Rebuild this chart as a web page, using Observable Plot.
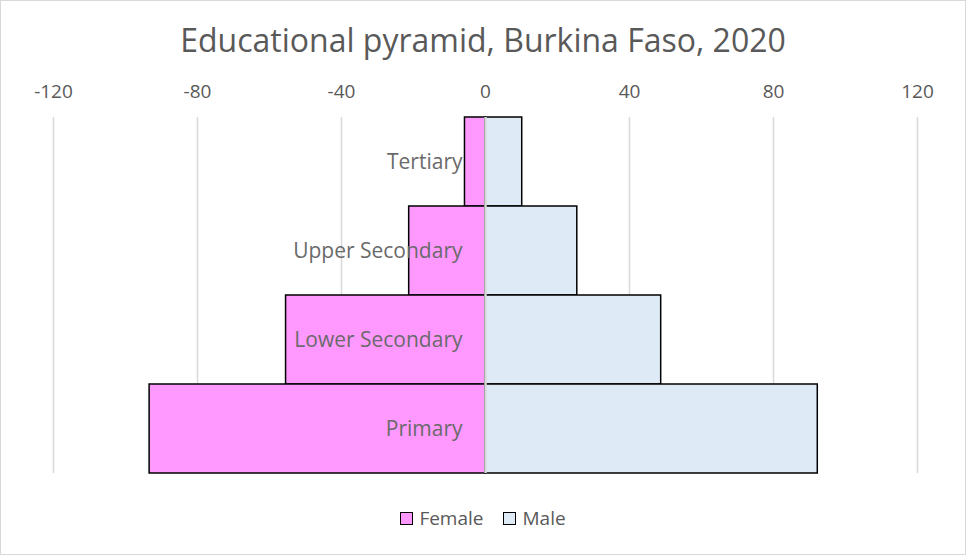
<!DOCTYPE html>
<html><head><meta charset="utf-8">
<script src="https://cdn.jsdelivr.net/npm/d3@7"></script>
<script src="https://cdn.jsdelivr.net/npm/@observablehq/plot@0.6"></script>
<style>
body{margin:0;background:#fff;font-family:"Open Sans",sans-serif;}
#wrap{position:relative;width:966px;height:555px;overflow:hidden;background:#fff}
#title{position:absolute;left:0;width:966px;top:24px;line-height:1;text-align:center;font-size:32px;color:#595959;white-space:nowrap}
#chart{position:absolute;left:0;top:70px}
#legend{position:absolute;left:0;width:966px;top:509px;display:flex;justify-content:center;align-items:center;font-size:19px;line-height:1;color:#595959}
.item{display:flex;align-items:center;margin:0 10px}
.sw{width:11px;height:11px;border:1.5px solid #000;margin-right:6px}
#border{position:absolute;left:0;top:0;width:964px;height:553px;border:1px solid #d9d9d9;pointer-events:none}
</style></head>
<body>
<div id="wrap">
  <div id="title"></div>
  <div id="chart"></div>
  <div id="legend"></div>
  <div id="border"></div>
</div>
<script>
const titleText = "Educational pyramid, Burkina Faso, 2020";
const categories = ["Tertiary", "Upper Secondary", "Lower Secondary", "Primary"];
const female = [-5.7, -21.2, -55.4, -93.3];
const male = [10.2, 25.5, 48.8, 92.3];
const xTicks = [-120, -80, -40, 0, 40, 80, 120];
const seriesNames = ["Female", "Male"];
const seriesColors = ["#ff99ff", "#deebf7"];

const rows = categories.flatMap((c, i) => [
  {category: c, sex: seriesNames[0], value: female[i]},
  {category: c, sex: seriesNames[1], value: male[i]}
]);

document.getElementById("title").textContent = titleText;

const plot = Plot.plot({
  width: 966, height: 420,
  marginTop: 47, marginBottom: 17, marginLeft: 53, marginRight: 49,
  style: {fontFamily: "Open Sans", fontSize: "19px", color: "#595959", background: "transparent"},
  x: {domain: [-120, 120], label: null},
  y: {domain: categories, padding: 0, axis: null},
  color: {domain: seriesNames, range: seriesColors},
  marks: [
    Plot.gridX(xTicks, {stroke: "#d9d9d9", strokeOpacity: 1, strokeWidth: 1.5}),
    Plot.barX(rows, {x1: 0, x2: "value", y: "category", fill: "sex", stroke: "#000", strokeWidth: 1.5}),
    Plot.ruleX([0], {stroke: "#d9d9d9", strokeWidth: 2.5}),
    Plot.text(categories, {x: 0, y: d => d, text: d => d, textAnchor: "end", dx: -23, fontSize: 21, fill: "#6a6a6a"}),
    Plot.axisX(xTicks, {anchor: "top", tickSize: 0, tickPadding: 20, tickFormat: d => String(d), fontSize: 19, fill: "#595959", label: null})
  ]
});
document.getElementById("chart").appendChild(plot);

const legend = document.getElementById("legend");
seriesNames.forEach((n, i) => {
  const it = document.createElement("div");
  it.className = "item";
  const sw = document.createElement("div");
  sw.className = "sw";
  sw.style.background = seriesColors[i];
  const t = document.createElement("span");
  t.textContent = n;
  it.appendChild(sw); it.appendChild(t);
  legend.appendChild(it);
});
</script>
</body></html>
